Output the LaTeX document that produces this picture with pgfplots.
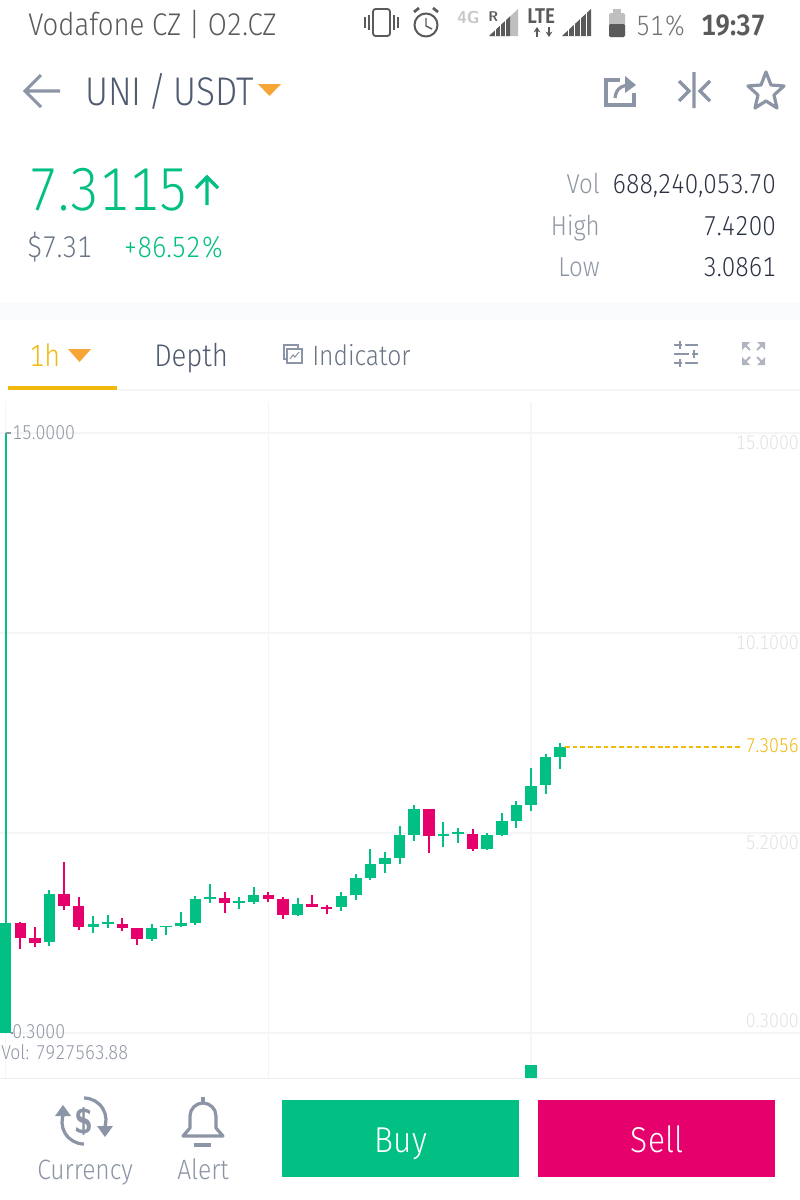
\documentclass[border=0pt]{standalone}
\usepackage{pgfplots}
\usepackage{pgfplotstable}
\usepackage{fontspec}
\pgfplotsset{compat=1.18}
\usetikzlibrary{arrows.meta}
\newfontfamily\din[FakeStretch=0.88,Numbers={Monospaced,Lining}]{Fira Sans Light}
\definecolor{cg}{HTML}{02BF83}
\definecolor{cr}{HTML}{E5006B}
\definecolor{gridc}{HTML}{F4F5F7}
\definecolor{band}{HTML}{FAFBFC}
\definecolor{og}{HTML}{F0B90B}
\definecolor{ot}{HTML}{F7A537}
\definecolor{slate}{HTML}{4F5B70}
\definecolor{icon}{HTML}{8C95A5}
\definecolor{mid}{HTML}{8F96A3}
\definecolor{pale}{HTML}{E0E2E6}
\definecolor{ink}{HTML}{2B3242}
\definecolor{sb}{HTML}{5A5A5A}
% i open high low close
\pgfplotstableread{
i o h l c
0 0.30 15.0 0.30 3.00
3 2.53 3.80 2.44 3.70
6 2.90 3.17 2.74 2.96
7 2.97 3.19 2.88 3.02
10 2.61 2.97 2.55 2.87
11 2.90 2.93 2.71 2.93
12 2.92 3.26 2.90 3.00
13 3.00 3.66 2.95 3.58
14 3.59 3.95 3.49 3.64
16 3.49 3.63 3.34 3.53
17 3.51 3.87 3.47 3.68
20 3.20 3.62 3.19 3.45
23 3.38 3.75 3.30 3.66
24 3.67 4.20 3.56 4.10
25 4.10 4.80 4.05 4.44
26 4.45 4.73 4.21 4.59
27 4.60 5.37 4.45 5.16
28 5.16 5.89 5.00 5.79
30 5.13 5.48 4.85 5.18
31 5.18 5.33 4.96 5.22
33 4.82 5.20 4.81 5.14
34 5.15 5.69 5.14 5.49
35 5.49 5.98 5.33 5.89
36 5.89 6.79 5.74 6.36
37 6.38 7.13 6.16 7.06
38 7.07 7.41 6.76 7.30
}\greenc
\pgfplotstableread{
i o h l c
1 3.00 3.02 2.36 2.64
2 2.63 2.90 2.41 2.51
4 3.70 4.50 3.31 3.41
5 3.40 3.63 2.83 2.89
8 2.97 3.11 2.80 2.88
9 2.87 2.87 2.46 2.60
15 3.61 3.76 3.24 3.49
18 3.68 3.76 3.52 3.59
19 3.59 3.64 3.09 3.20
21 3.46 3.67 3.38 3.38
22 3.38 3.44 3.22 3.33
29 5.79 5.79 4.72 5.13
32 5.18 5.31 4.75 4.82
}\redc
% x y anchor size(pt) colour text
\newcommand\T[6]{\node[anchor=#3,inner sep=0pt,text=#5] at (#1,#2) {\din\fontsize{#4pt}{#4pt}\selectfont #6};}
\begin{document}
\begin{tikzpicture}
\path[use as bounding box] (0pt,0pt) rectangle (600pt,-900pt);
\begin{scope}[x=0.75pt,y=-0.75pt]
\fill[white] (0,0) rectangle (800,1200);
\fill[band] (0,303) rectangle (800,320);
\end{scope}
\begin{axis}[at={(0pt,-808.5pt)},anchor=south west,scale only axis,width=600pt,height=507pt,
 xmin=-0.39,xmax=54.44,ymin=-0.8025,ymax=15.7595,
 axis line style={draw=none},tick style={draw=none},
 xtick={0,18,36},ytick={0.3,5.2,10.1,15},xticklabels={},yticklabels={},
 grid=major,major grid style={gridc,line width=1.1pt}]
\addplot[draw=none,no markers,forget plot,error bars/.cd,y dir=both,y explicit,error mark=none,
 error bar style={draw=cg,line width=1.5pt,solid}]
 table[x=i,y=o,y error plus expr=\thisrow{h}-\thisrow{o},y error minus expr=\thisrow{o}-\thisrow{l}] {\greenc};
\addplot[draw=none,no markers,forget plot,error bars/.cd,y dir=plus,y explicit,error mark=none,
 error bar style={draw=cg,line width=8.6pt,solid}]
 table[x=i,y=o,y error plus expr=\thisrow{c}-\thisrow{o}] {\greenc};
\addplot[draw=none,no markers,forget plot,error bars/.cd,y dir=both,y explicit,error mark=none,
 error bar style={draw=cr,line width=1.5pt,solid}]
 table[x=i,y=o,y error plus expr=\thisrow{h}-\thisrow{o},y error minus expr=\thisrow{o}-\thisrow{l}] {\redc};
\addplot[draw=none,no markers,forget plot,error bars/.cd,y dir=minus,y explicit,error mark=none,
 error bar style={draw=cr,line width=8.6pt,solid}]
 table[x=i,y=o,y error minus expr=\thisrow{o}-\thisrow{c}] {\redc};
% last price line
\addplot[og,line width=1.1pt,dash pattern=on 3.6pt off 2.2pt,forget plot] coordinates {(38.33,7.3056)(50.4,7.3056)};
% price-label leaders
\addplot[mid,line width=0.8pt,forget plot] coordinates {(0,15)(0.35,15)};
\addplot[mid,line width=0.8pt,forget plot] coordinates {(0.38,0.3)(0.48,0.3)};
\end{axis}
\begin{axis}[at={(0pt,-808.5pt)},anchor=south west,scale only axis,width=600pt,height=9.75pt,
 xmin=-0.39,xmax=54.44,ymin=0,ymax=7927563.88,hide axis]
\addplot[ybar,bar width=8.6pt,fill=cg,draw=none] coordinates {(36,7927563.88)};
\end{axis}
\begin{scope}[x=0.75pt,y=-0.75pt]
% status bar
\T{28}{35}{base west}{23.5}{sb}{Vodafone CZ | O2.CZ}
\draw[sb,line width=1.4pt,rounded corners=2pt] (373,9) rectangle (390,36);
\draw[sb,line width=1pt] (365,17)--(365,28) (369,15)--(369,30) (394,15)--(394,30) (398,17)--(398,28);
\draw[sb,line width=1.5pt] (426,25) circle (11.5);
\draw[sb,line width=1.1pt] (426,18)--(426,26)--(432,29);
\draw[sb,line width=2pt] (414,12)--(419,8) (438,12)--(433,8);
\node[anchor=base west,inner sep=0pt,text=black!22] at (457,23) {\fontsize{13pt}{13pt}\bfseries\sffamily 4G};
\node[anchor=base west,inner sep=0pt,text=sb] at (488,21) {\fontsize{10.5pt}{10.5pt}\bfseries\sffamily R};
\fill[black!25] (489,36)--(518,9)--(518,36)--cycle;
\fill[sb] (489,36)--(510,16.5)--(510,36)--cycle;
\draw[white,line width=.7pt] (495,36)--(495,28) (500,36)--(500,24) (505,36)--(505,19);
\node[anchor=base west,inner sep=0pt,text=sb] at (527,23) {\din\fontsize{16pt}{16pt}\selectfont\bfseries LTE};
\draw[sb,line width=1.1pt,-{Stealth[length=4pt,width=5pt]}] (537,37)--(537,27);
\draw[sb,line width=1.1pt,-{Stealth[length=4pt,width=5pt]}] (549,27)--(549,37);
\fill[sb] (562,36)--(591,9)--(591,36)--cycle;
\draw[white,line width=.7pt] (568,36)--(568,28) (574,36)--(574,24) (580,36)--(580,18) (586,36)--(586,13);
\fill[black!25,rounded corners=1pt] (609,13) rectangle (625,37);
\fill[black!25] (613,9) rectangle (621,13);
\fill[sb,rounded corners=1pt] (609,24) rectangle (625,37);
\T{636}{35}{base west}{21}{black!55}{51\%}
\T{701}{35}{base west}{22}{sb}{\bfseries 19:37}
% header
\draw[icon,line width=2.3pt] (60,91)--(25,91) (41,75)--(25,91)--(41,107);
\T{85}{105}{base west}{30}{slate}{UNI\,/\,USDT}
\fill[ot] (258,84)--(281,84)--(269.5,96)--cycle;
\draw[icon,line width=2.4pt] (620,80)--(606,80)--(606,105)--(634,105)--(634,93);
\draw[icon,line width=2.4pt] (615,98) .. controls (616,88) and (622,85) .. (632,85);
\fill[icon] (625,76)--(636,85)--(625,93)--cycle;
\draw[icon,line width=2.4pt] (694,72)--(694,108) (679,81)--(689,91)--(679,101) (710,81)--(700,91)--(710,101);
\draw[icon,line width=2.4pt,line join=round] (766,72)--(771,85)--(784,86)--(774,95)--(777,108)--(766,101)--(755,108)--(758,95)--(748,86)--(761,85)--cycle;
% price block
\T{28}{210}{base west}{45.5}{cg}{7.3115}
\draw[cg,line width=2.6pt] (207,205)--(207,177) (196,188)--(207,177)--(218,188);
\T{27}{257}{base west}{22.5}{slate!85}{\$7.31}
\T{123}{257}{base west}{22}{cg}{+86.52\%}
\T{600}{193}{base east}{20.5}{mid}{Vol}
\T{776}{193}{base east}{20.5}{ink}{688,240,053.70}
\T{600}{235}{base east}{20.5}{mid}{High}
\T{776}{235}{base east}{20.5}{ink}{7.4200}
\T{600}{276}{base east}{20.5}{mid}{Low}
\T{776}{276}{base east}{20.5}{ink}{3.0861}
% tabs
\T{29}{366}{base west}{23}{og}{1h}
\fill[ot] (68,349)--(91,349)--(79.5,362)--cycle;
\T{154}{366}{base west}{23.5}{slate}{Depth}
\draw[icon,line width=1.1pt] (284,345) rectangle (298,359);
\fill[white] (287,349) rectangle (302,363);
\draw[icon,line width=1.1pt] (287,349) rectangle (302,363);
\draw[icon,line width=.8pt] (290,359)--(293,355)--(295,357)--(299,352);
\T{312}{365}{base west}{21}{slate!85}{Indicator}
\fill[og] (8,386) rectangle (117,390);
\fill[gridc] (117,389) rectangle (800,390.5);
\draw[icon,line width=2pt] (674,345)--(698,345) (674,354)--(698,354) (674,363)--(698,363);
\fill[white] (682,342) rectangle (685,348) (689,351) rectangle (692,357) (682,360) rectangle (685,366);
\draw[icon,line width=1.8pt] (680,341)--(680,349) (694,350)--(694,358) (680,359)--(680,367);
% expand icon: four outward corner arrows
\fill[icon!70] (742,342)--(750,342)--(742,350)--cycle (765,342)--(757,342)--(765,350)--cycle (742,365)--(750,365)--(742,357)--cycle (765,365)--(757,365)--(765,357)--cycle;
\draw[icon!70,line width=1.5pt] (745,345)--(750,350) (762,345)--(757,350) (745,362)--(750,357) (762,362)--(757,357);
% price labels
\T{12}{439}{base west}{15}{mid}{15.0000}
\T{12}{1038}{base west}{15}{mid}{0.3000}
\T{799}{449}{base east}{15}{pale}{15.0000}
\T{799}{649}{base east}{15}{pale}{10.1000}
\T{799}{849}{base east}{15}{pale}{5.2000}
\T{799}{1027}{base east}{15}{pale}{0.3000}
\T{799}{752}{base east}{15}{og}{7.3056}
\T{1}{1059}{base west}{15}{mid}{Vol: 7927563.88}
% bottom bar
\fill[white] (0,1078.5) rectangle (800,1200);
\fill[black!6] (0,1077.5) rectangle (800,1079);
\fill[cg] (281.5,1100) rectangle (518.5,1177);
\fill[cr] (538,1100) rectangle (775,1177);
\node[anchor=base,inner sep=0pt,text=white] at (401,1152) {\din\fontsize{27pt}{27pt}\selectfont Buy};
\node[anchor=base,inner sep=0pt,text=white] at (657,1152) {\din\fontsize{27pt}{27pt}\selectfont Sell};
\T{37}{1179}{base west}{21}{icon}{Currency}
\T{177}{1179}{base west}{21}{icon}{Alert}
\node[text=icon,inner sep=0pt] at (84,1121) {\fontsize{26pt}{26pt}\sffamily\bfseries\$};
\draw[icon,line width=2.4pt] (84,1098) arc (-90:25:22);
\draw[icon,line width=2.4pt] (84,1144) arc (90:205:22);
\fill[icon] (97,1126)--(113,1126)--(105,1137)--cycle;
\fill[icon] (55,1116)--(71,1116)--(63,1105)--cycle;
\draw[icon,line width=2.4pt,line join=round] (183,1136)--(190,1128)--(190,1116) arc (180:360:13) --(216,1128)--(223,1136)--cycle;
\draw[icon,line width=2.4pt] (203,1097)--(203,1103);
\draw[icon,line width=3.4pt] (194,1145)--(211,1145);
\end{scope}
\end{tikzpicture}
\end{document}
